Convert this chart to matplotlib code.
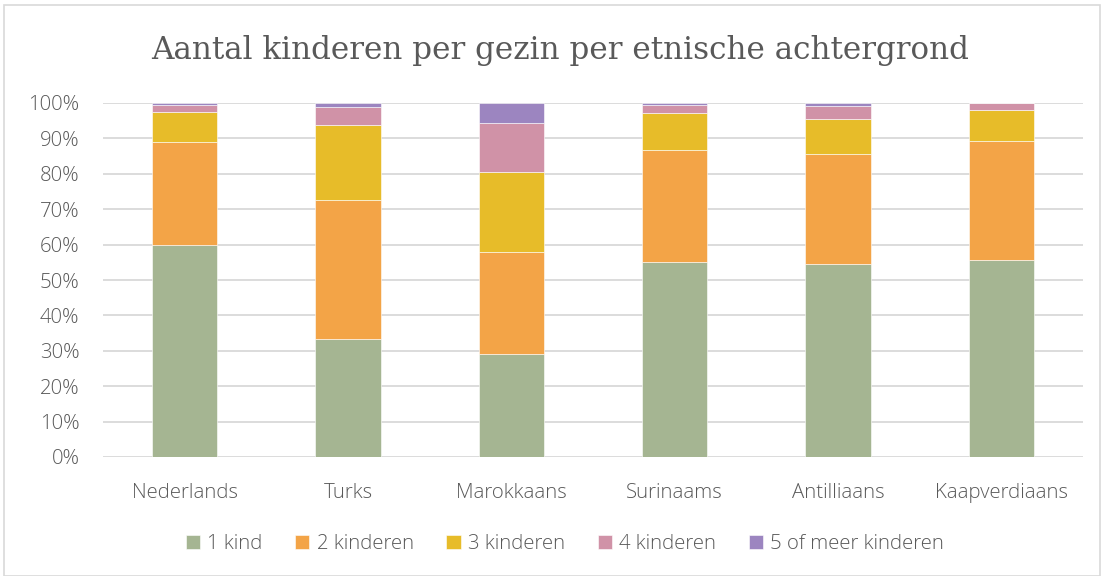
import matplotlib
matplotlib.use("Agg")
from matplotlib import pyplot as plt
from matplotlib.patches import Rectangle
from matplotlib.ticker import PercentFormatter

# categorieën en percentages per aantal kinderen
groepen = ["Nederlands", "Turks", "Marokkaans", "Surinaams", "Antilliaans", "Kaapverdiaans"]
kind_1 = [59.8, 33.3, 29.0, 55.0, 54.5, 55.7]
kind_2 = [29.1, 39.2, 28.8, 31.7, 31.1, 33.55]
kind_3 = [8.6, 21.3, 22.8, 10.5, 9.9, 8.75]
kind_4 = [2.0, 5.15, 13.8, 2.3, 3.75, 2.0]
kind_5 = [0.5, 1.05, 5.6, 0.5, 0.75, 0.0]

reeksen = ["1 kind", "2 kinderen", "3 kinderen", "4 kinderen", "5 of meer kinderen"]
kleuren = ["#a5b592", "#f3a447", "#e7bc29", "#d092a7", "#9c85c0"]

tekstkleur = "#595959"
plt.rcParams['font.family'] = ['Open Sans', 'DejaVu Sans']
plt.rcParams['font.weight'] = 'light'

fig = plt.figure(figsize=(11.01, 5.76), dpi=100)
ax = fig.add_axes([103/1101, 1-457/576, 980/1101, 354/576])

x = range(len(groepen))
onder = [0] * len(groepen)
for waarden, naam, kleur in zip([kind_1, kind_2, kind_3, kind_4, kind_5], reeksen, kleuren):
    ax.bar(x, waarden, bottom=onder, width=0.4, color=kleur, label=naam,
           edgecolor="white", linewidth=0.4, zorder=3)
    onder = [a + b for a, b in zip(onder, waarden)]

ax.set_xlim(-0.5, len(groepen) - 0.5)
ax.set_ylim(0, 100)
ax.set_yticks(range(0, 101, 10))
ax.yaxis.set_major_formatter(PercentFormatter(decimals=0))
ax.set_xticks(list(x))
ax.set_xticklabels(groepen)
ax.tick_params(axis="both", length=0, labelsize=14.7, colors=tekstkleur)
ax.tick_params(axis="x", pad=19)
ax.tick_params(axis="y", pad=17)
ax.grid(axis="y", color="#d9d9d9", linewidth=1.3, zorder=0)
for s in ax.spines.values():
    s.set_visible(False)

fig.text(0.509, 0.913, "Aantal kinderen per gezin per etnische achtergrond",
         ha="center", va="center", fontsize=22.3, color=tekstkleur, family="DejaVu Serif",
         fontweight="normal")

ax.legend(loc="center", bbox_to_anchor=(0.513, 1 - 544/576), bbox_transform=fig.transFigure,
          ncol=5, frameon=False, fontsize=14.7, labelcolor=tekstkleur,
          handlelength=0.7, handleheight=0.7, handletextpad=0.35, columnspacing=1.6)

# rand om de grafiek
fig.patches.append(Rectangle((4/1101, 0), 1 - 4/1101 - 0.001, 1 - 5/576, transform=fig.transFigure,
                             fill=False, edgecolor="#d9d9d9", linewidth=1.2))

fig.savefig("out.png", dpi=100)
